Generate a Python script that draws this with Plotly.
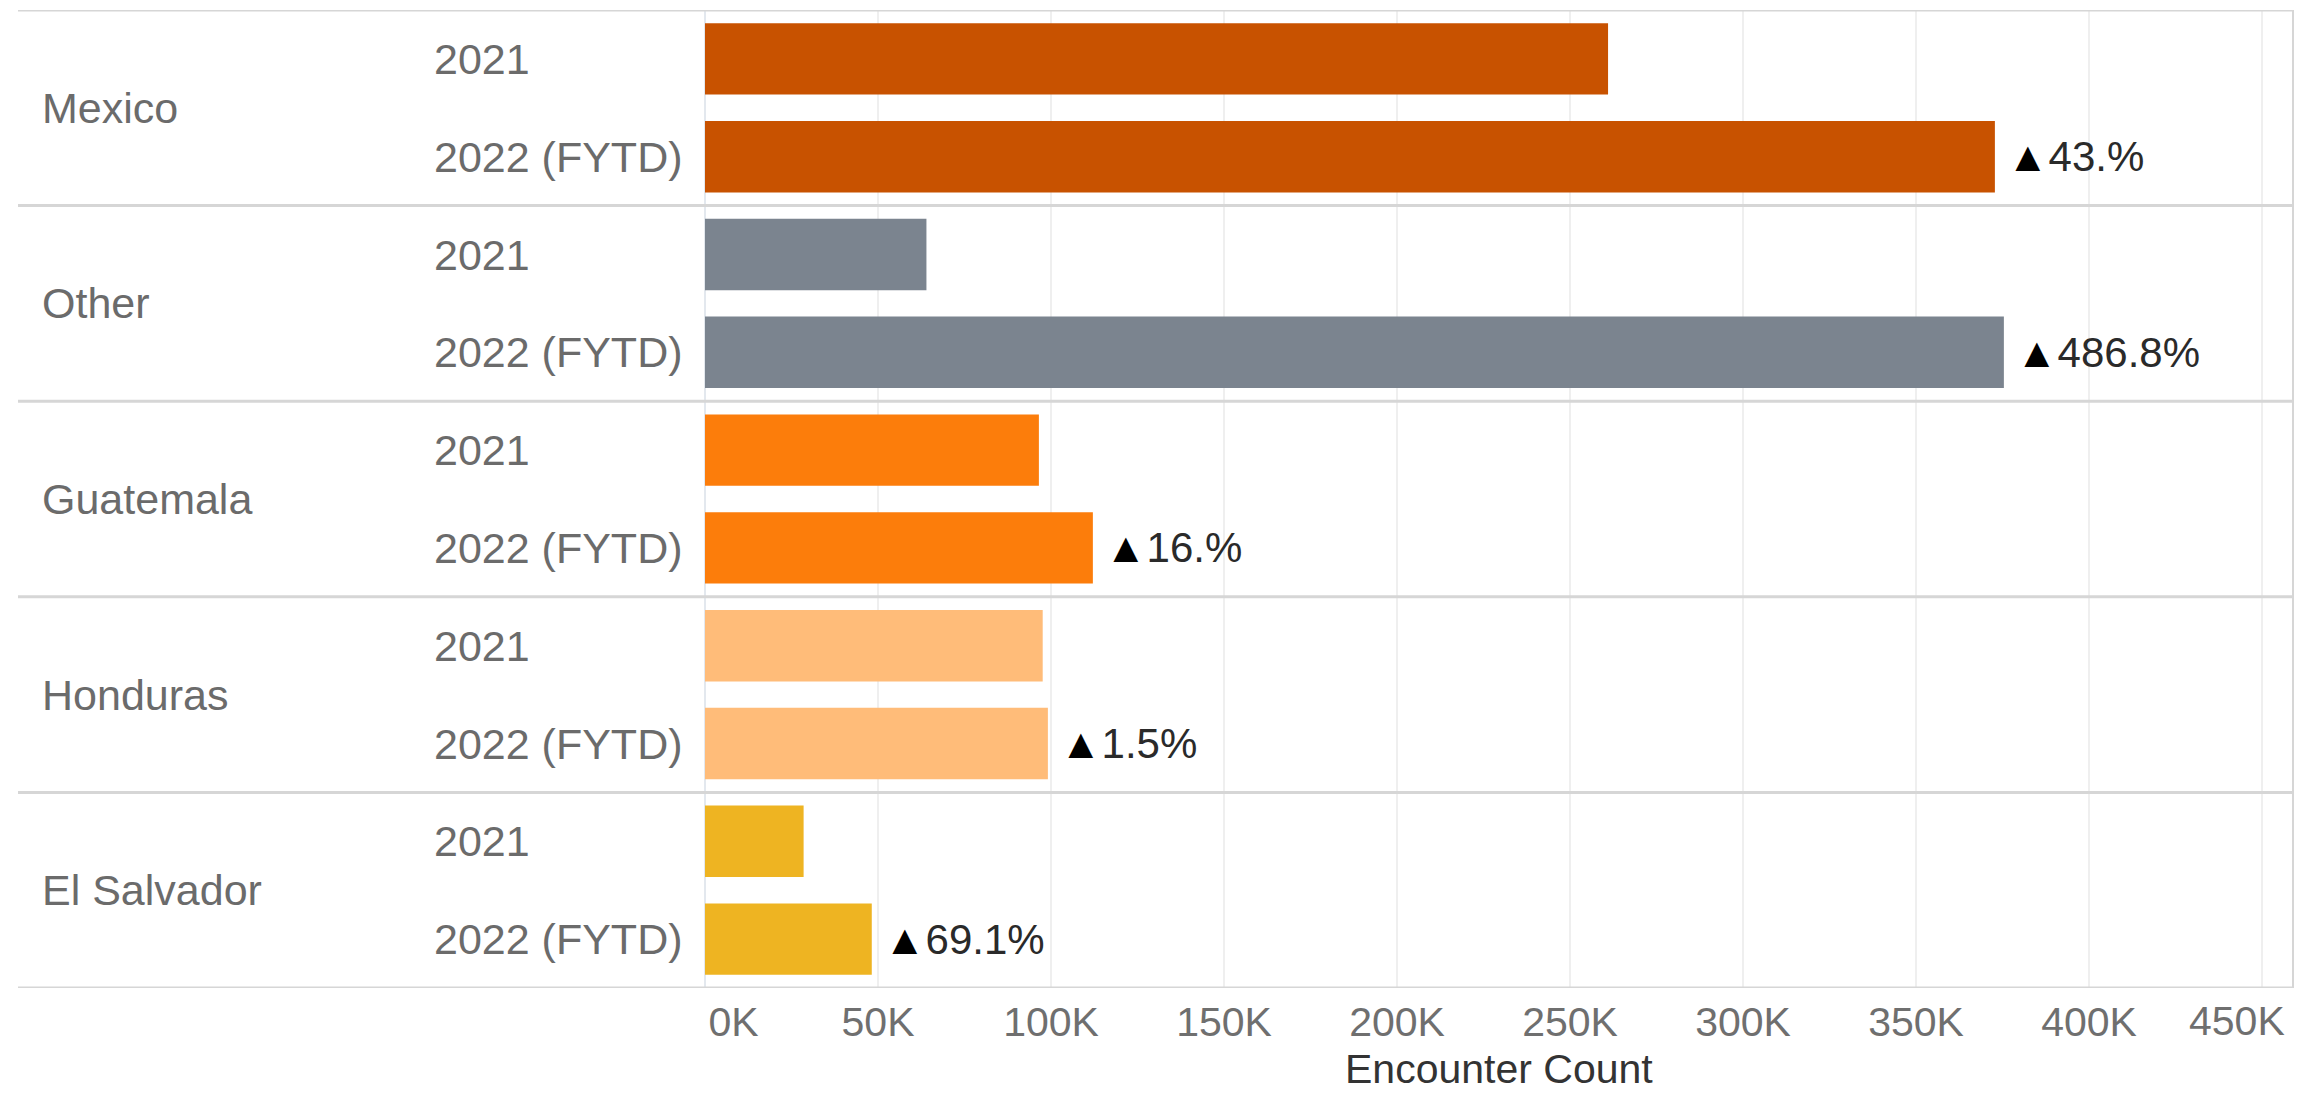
import plotly.graph_objects as go

# ---- data ----
countries = ["Mexico", "Other", "Guatemala", "Honduras", "El Salvador"]
years = ["2021", "2022 (FYTD)"]
values_2021 = [261000, 64000, 96500, 97600, 28500]
values_2022 = [372800, 375400, 112100, 99100, 48200]
pct_labels = ["43.%", "486.8%", "16.%", "1.5%", "69.1%"]
colors = ["#C85200", "#7B848F", "#FC7D0B", "#FFBC79", "#EEB422"]
tick_vals = [0, 50000, 100000, 150000, 200000, 250000, 300000, 350000, 400000, 450000]
tick_text = ["0K", "50K", "100K", "150K", "200K", "250K", "300K", "350K", "400K", "450K"]

# page has an 8px body margin: figure is sized to fit inside the window
OFF = 8
W, H = 2315 - 2 * OFF, 1101 - 2 * OFF
FONT = "Liberation Sans, Arial, sans-serif"
x_left, x_right = 705 - OFF, 2293 - OFF
y_top, y_bot = 10 - OFF, 988 - OFF
px_per_50k = 173
tick_font = dict(family=FONT, size=41, color="#6f6f6f")
STANDOFF = 6

fig = go.Figure()

ys, xs, cs = [], [], []
for i, c in enumerate(countries):
    ys += [2 * i, 2 * i + 1]
    xs += [values_2021[i], values_2022[i]]
    cs += [colors[i], colors[i]]

fig.add_trace(go.Bar(
    y=ys, x=xs, orientation="h", marker=dict(color=cs, line=dict(width=0)),
    width=0.73, showlegend=False, hoverinfo="x",
))

annotations = []
shapes = []
for i, c in enumerate(countries):
    annotations.append(dict(
        x=(40 - OFF) / W, xref="paper", y=2 * i + 0.5, yref="y", text=c,
        showarrow=False, xanchor="left", yanchor="middle",
        font=dict(family=FONT, size=43, color="#6b6b6b"),
    ))
    for j, yr in enumerate(years):
        annotations.append(dict(
            x=(432 - OFF) / W, xref="paper", y=2 * i + j, yref="y", text=yr,
            showarrow=False, xanchor="left", yanchor="middle",
            font=dict(family=FONT, size=43, color="#6b6b6b"),
        ))
    annotations.append(dict(
        x=values_2022[i], xref="x", y=2 * i + 1, yref="y",
        text="<span style='color:#000000'>\u25B2</span>" + pct_labels[i],
        showarrow=False, xanchor="left", yanchor="middle", xshift=10,
        font=dict(family=FONT, size=42, color="#2a2a2a"),
    ))

for k in range(len(countries) + 1):
    shapes.append(dict(
        type="line", xref="paper", yref="y", x0=(18 - OFF) / W, x1=x_right / W,
        y0=2 * k - 0.5, y1=2 * k - 0.5, line=dict(color="#d6d6d6", width=3),
    ))
shapes.append(dict(
    type="line", xref="paper", yref="y", x0=x_right / W, x1=x_right / W,
    y0=-0.5, y1=2 * len(countries) - 0.5, line=dict(color="#d6d6d6", width=2),
))

# axis title, kept just inside the bottom edge
annotations.append(dict(
    x=(x_left + x_right) / 2 / W, xref="paper", y=0, yref="paper",
    text="Encounter Count", showarrow=False, xanchor="center", yanchor="bottom",
    borderpad=0, font=dict(family=FONT, size=41, color="#333333"),
))

# first tick label nudged right; last tick label right-aligned inside the frame
NB = "\u00a0"
shown_ticks = list(tick_text)
shown_ticks[0] = NB * 5 + shown_ticks[0]
shown_ticks[-1] = ""
annotations.append(dict(
    x=tick_vals[-1], xref="x", y=1 - (1015 + STANDOFF - OFF) / H, yref="paper",
    text=tick_text[-1], showarrow=False, xanchor="right", yanchor="middle",
    xshift=24, borderpad=0, font=tick_font,
))

fig.update_layout(
    width=W, height=H, template="none",
    margin=dict(l=0, r=0, t=0, b=0),
    paper_bgcolor="white", plot_bgcolor="white",
    xaxis=dict(
        domain=[x_left / W, x_right / W], range=[0, 50000 * (x_right - x_left) / px_per_50k],
        tickvals=tick_vals, ticktext=shown_ticks, showgrid=True, gridcolor="#efefef",
        gridwidth=2, zeroline=True, zerolinecolor="#e3e8ee", zerolinewidth=2,
        showline=False, ticks="", ticklabelstandoff=STANDOFF,
        tickfont=tick_font, automargin=False, fixedrange=True,
    ),
    yaxis=dict(
        domain=[1 - y_bot / H, 1 - y_top / H], range=[2 * len(countries) - 0.5, -0.5],
        showticklabels=False, showgrid=False, zeroline=False, showline=False,
        automargin=False, fixedrange=True,
    ),
    annotations=annotations, shapes=shapes,
)

fig.write_html("out.html")
